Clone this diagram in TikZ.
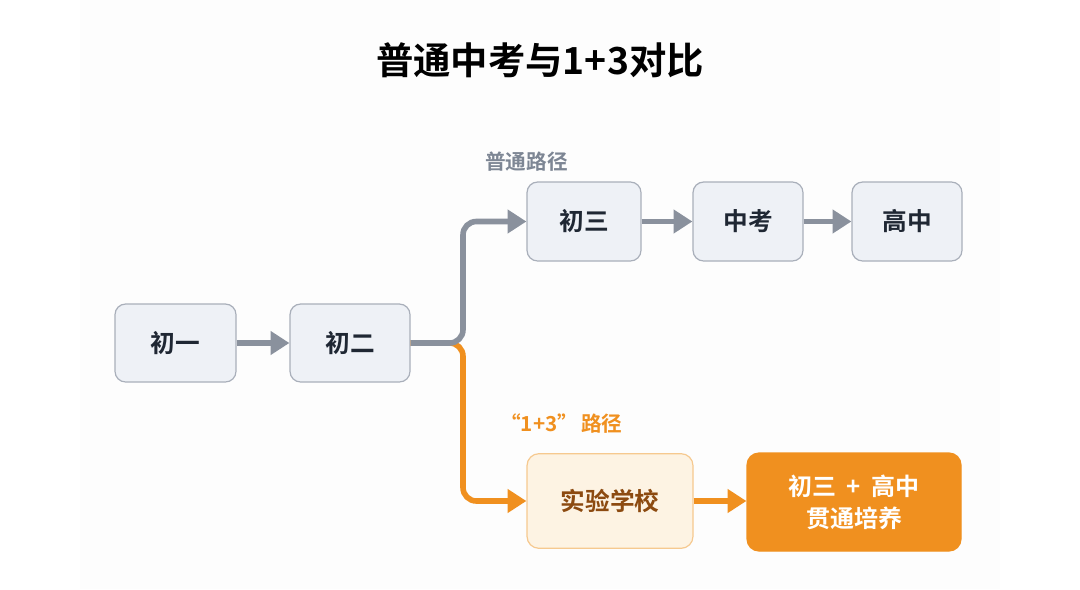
\documentclass[tikz,border=0pt]{standalone}
\usepackage{fontspec}
\setmainfont{Noto Sans CJK SC}[BoldFont={Noto Sans CJK SC Bold}]
\usetikzlibrary{arrows.meta,calc}
\definecolor{bgpanel}{HTML}{FDFDFD}
\definecolor{boxfill}{HTML}{EEF1F6}
\definecolor{boxline}{HTML}{A9AFBA}
\definecolor{boxtext}{HTML}{1F2733}
\definecolor{grayarr}{HTML}{8A919D}
\definecolor{graylab}{HTML}{7D8694}
\definecolor{orng}{HTML}{F0901F}
\definecolor{expfill}{HTML}{FDF3E3}
\definecolor{expline}{HTML}{F6C98F}
\definecolor{exptext}{HTML}{8C4A10}
\begin{document}
\begin{tikzpicture}[x=0.75pt,y=-0.75pt,
  stagebox/.style={draw=boxline,line width=0.9pt,fill=boxfill,rounded corners=8pt,
    minimum height=58.5pt,text=boxtext,font=\bfseries\fontsize{18.5}{20}\selectfont,inner sep=0pt},
  expbox/.style={draw=expline,line width=0.9pt,fill=expfill,rounded corners=9pt,
    minimum width=124.5pt,minimum height=71pt,text=exptext,font=\bfseries\fontsize{18.5}{20}\selectfont,inner sep=0pt},
  resbox/.style={draw=orng,line width=0.9pt,fill=orng,rounded corners=9pt,
    minimum width=160.5pt,minimum height=73.5pt,text=white,align=center,
    font=\bfseries\fontsize{18}{24}\selectfont,inner sep=0pt},
  grayline/.style={draw=grayarr,line width=4.2pt,-{Triangle[length=14pt,width=17pt]}},
  orngline/.style={draw=orng,line width=4.2pt,-{Triangle[length=14pt,width=17pt]}},
  pathlab/.style={font=\bfseries\fontsize{15.5}{17}\selectfont,inner sep=0pt}
]
\useasboundingbox (0,0) rectangle (1080,589);
\fill[white] (0,0) rectangle (1080,589);
\fill[bgpanel] (80,0) rectangle (1000,589);

\node[font=\bfseries\fontsize{28}{32}\selectfont,text=black] (title) at (540,60) {普通中考与1+3对比};

\node[stagebox,minimum width=90.75pt] (g1) at (175.5,343) {初一};
\node[stagebox,minimum width=90pt] (g2) at (350,343) {初二};
\node[stagebox,minimum width=85.5pt,minimum height=59.25pt] (g3) at (584,221.5) {初三};
\node[stagebox,minimum width=82.5pt,minimum height=59.25pt] (zk) at (748,221.5) {中考};
\node[stagebox,minimum width=82.5pt,minimum height=59.25pt] (gz) at (907,221.5) {高中};
\node[expbox] (sy) at (610,501) {实验学校};
\node[resbox] (gt) at (854,502) {初三\hspace{0.45em}+\hspace{0.45em}高中\\贯通培养};

\node[pathlab,text=graylab,anchor=west] (lab1) at (485,162) {普通路径};
\node[pathlab,text=orng,anchor=west] (lab2) at (500,424) {“1+3”\hspace{0.15em}路径};

\coordinate (j) at (463,343);

\draw[grayline] (g1.east) -- (g2.west);
\draw[orngline,rounded corners=10pt] (g2.east) -- (j) |- (sy.west);
\draw[grayline,rounded corners=10pt] (g2.east) -- (j) |- (g3.west);
\draw[grayline] (g3.east) -- (zk.west);
\draw[grayline] (zk.east) -- (gz.west);
\draw[orngline] (sy.east) -- (sy.east -| gt.west);
\end{tikzpicture}
\end{document}
